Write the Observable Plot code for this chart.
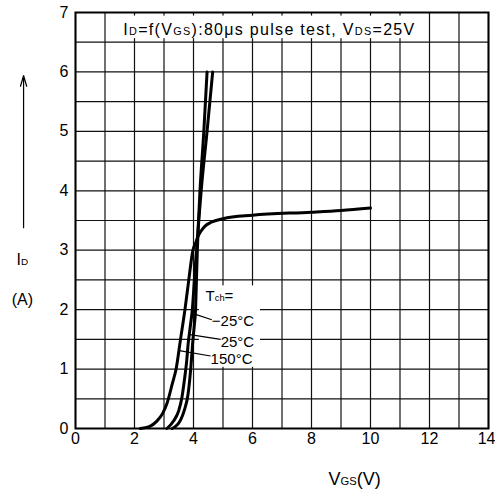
<!DOCTYPE html>
<html>
<head>
<meta charset="utf-8">
<script src="https://cdn.jsdelivr.net/npm/d3@7"></script>
<script src="https://cdn.jsdelivr.net/npm/@observablehq/plot@0.6"></script>
<style>
  html, body { margin: 0; padding: 0; background: #fff; }
  #chart { width: 495px; height: 494px; }
</style>
</head>
<body>
<div id="chart"></div>
<script>
// ---- data ----
const xTicks = [0, 2, 4, 6, 8, 10, 12];
const xTickLast = [14];
const yTicks = [0, 1, 2, 3, 4, 5, 6, 7];
const xGrid = d3.range(0, 15, 1);
const yGrid = d3.range(0, 7.01, 0.5);

// Tch = 150 °C
const t150_vgs = [2.2, 2.5, 2.75, 2.95, 3.1, 3.28, 3.41, 3.56, 3.71, 3.84, 3.98, 4.07, 4.15, 4.25, 4.4, 4.6, 5.0, 6.0, 8.0, 9.0, 10.0];
const t150_id  = [0, 0.03, 0.12, 0.25, 0.42, 0.75, 1.0, 1.5, 2.0, 2.5, 3.0, 3.12, 3.23, 3.32, 3.41, 3.47, 3.53, 3.59, 3.64, 3.67, 3.71];
// Tch = 25 °C
const t25_vgs = [3.1, 3.33, 3.5, 3.61, 3.69, 3.76, 3.82, 3.9, 3.96, 4.03, 4.1, 4.18, 4.26, 4.46, 4.65];
const t25_id  = [0, 0.13, 0.3, 0.53, 0.81, 1.09, 1.43, 1.75, 2.0, 2.5, 3.0, 3.5, 4.0, 5.0, 6.0];
// Tch = -25 °C
const tm25_vgs = [3.28, 3.56, 3.69, 3.81, 3.87, 3.92, 3.97, 4.03, 4.07, 4.1, 4.13, 4.17, 4.22, 4.35, 4.46];
const tm25_id  = [0, 0.14, 0.31, 0.56, 0.81, 1.09, 1.43, 1.75, 2.0, 2.5, 3.0, 3.5, 4.0, 5.0, 6.0];

const seriesNames = ["150°C", "25°C", "-25°C"];

// annotations
const labelNames = ["T_{ch}=", "−25°C", "25°C", "150°C"];
const labelX = [4.41, 4.62, 4.92, 4.58];
const labelY = [2.22, 1.80, 1.46, 1.17];
const leaderX1 = [4.62, 4.92, 4.58];
const leaderY1 = [1.83, 1.50, 1.22];
const leaderX2 = [4.07, 3.88, 3.52];
const leaderY2 = [1.92, 1.58, 1.31];

const titleText = "I_{D}=f(V_{GS}):80μs pulse test, V_{DS}=25V";
const titlePos = [{x: 1.62, y: 6.70}];
const titleBox = [{x1: 1.08, x2: 11.9, y1: 6.56, y2: 6.94}];
const labelBox = [{x1: 4.2, x2: 6.27, y1: 1.03, y2: 2.4}];
const yArrow = [{x: -1.76, y1: 3.38, y2: 5.94}];
const yTitle = [{x: -1.8, y: 2.83, t: "I_{D}"}, {x: -1.8, y: 2.17, t: "(A)"}];
const xTitle = [{x: 9.46, y: -0.86, t: "V_{GS}(V)"}];

// ---- build tables ----
const curves = [
  ...t150_vgs.map((v, i) => ({s: seriesNames[0], x: v, y: t150_id[i]})),
  ...t25_vgs.map((v, i) => ({s: seriesNames[1], x: v, y: t25_id[i]})),
  ...tm25_vgs.map((v, i) => ({s: seriesNames[2], x: v, y: tm25_id[i]}))
];
const labels = labelNames.map((t, i) => ({t, x: labelX[i], y: labelY[i]}));
const leaders = leaderX1.map((v, i) => ({x1: v, y1: leaderY1[i], x2: leaderX2[i], y2: leaderY2[i]}));

const FONT = "Liberation Sans, Arial, sans-serif";

const chart = Plot.plot({
  width: 495,
  height: 494,
  marginLeft: 75,
  marginRight: 7,
  marginTop: 12,
  marginBottom: 66,
  style: {fontFamily: FONT, fontSize: "15px", background: "#fff", color: "#000"},
  x: {domain: [0, 14]},
  y: {domain: [0, 7]},
  marks: [
    Plot.ruleX(xGrid, {stroke: "#111", strokeWidth: 1.2}),
    Plot.ruleY(yGrid, {stroke: "#111", strokeWidth: 1.2}),
    Plot.rect(titleBox, {x1: "x1", x2: "x2", y1: "y1", y2: "y2", fill: "#fff"}),
    Plot.rect(labelBox, {x1: "x1", x2: "x2", y1: "y1", y2: "y2", fill: "#fff"}),
    Plot.frame({stroke: "#000", strokeWidth: 2}),
    Plot.line(curves, {x: "x", y: "y", z: "s", stroke: "#000", strokeWidth: 3, curve: "monotone-x"}),
    Plot.link(leaders, {x1: "x1", y1: "y1", x2: "x2", y2: "y2", stroke: "#000", strokeWidth: 1.2}),
    Plot.text(labels, {x: "x", y: "y", text: "t", textAnchor: "start", fontSize: 15, fill: "#000"}),
    Plot.text(titlePos, {x: "x", y: "y", text: () => titleText, textAnchor: "start", fontSize: 16, fill: "#000", className: "ttl"}),
    Plot.axisY({ticks: yTicks, tickSize: 0, tickPadding: 7, fontSize: 16, tickFormat: d => String(d)}),
    Plot.axisX({ticks: xTicks, tickSize: 0, tickPadding: 4, fontSize: 16, tickFormat: d => String(d)}),
    Plot.axisX({ticks: xTickLast, tickSize: 0, tickPadding: 4, fontSize: 16, textAnchor: "end", dx: 7, tickFormat: d => String(d)}),
    Plot.arrow(yArrow, {x1: "x", x2: "x", y1: "y1", y2: "y2", stroke: "#000", strokeWidth: 1.2, headLength: 14, headAngle: 32}),
    Plot.text(yTitle, {x: "x", y: "y", text: "t", fontSize: 16, fill: "#000"}),
    Plot.text(xTitle, {x: "x", y: "y", text: "t", fontSize: 18, fill: "#000"})
  ]
});

// subscripts: rewrite "_{...}" into small tspans
d3.select(chart).selectAll("text").each(function () {
  const el = this;
  const s = el.textContent;
  if (!s.includes("_{")) return;
  const isTitle = s.startsWith("I_{D}=f");
  const parts = s.split(/(_\{[^}]*\})/).filter(p => p.length);
  el.textContent = "";
  if (isTitle) el.setAttribute("letter-spacing", "1.3px");
  for (const p of parts) {
    const m = p.match(/^_\{([^}]*)\}$/);
    const ts = document.createElementNS("http://www.w3.org/2000/svg", "tspan");
    if (m) {
      ts.textContent = m[1];
      ts.setAttribute("font-size", isTitle ? "0.68em" : "0.62em");
    } else {
      ts.textContent = p;
    }
    el.appendChild(ts);
  }
});

document.getElementById("chart").appendChild(chart);
</script>
</body>
</html>
